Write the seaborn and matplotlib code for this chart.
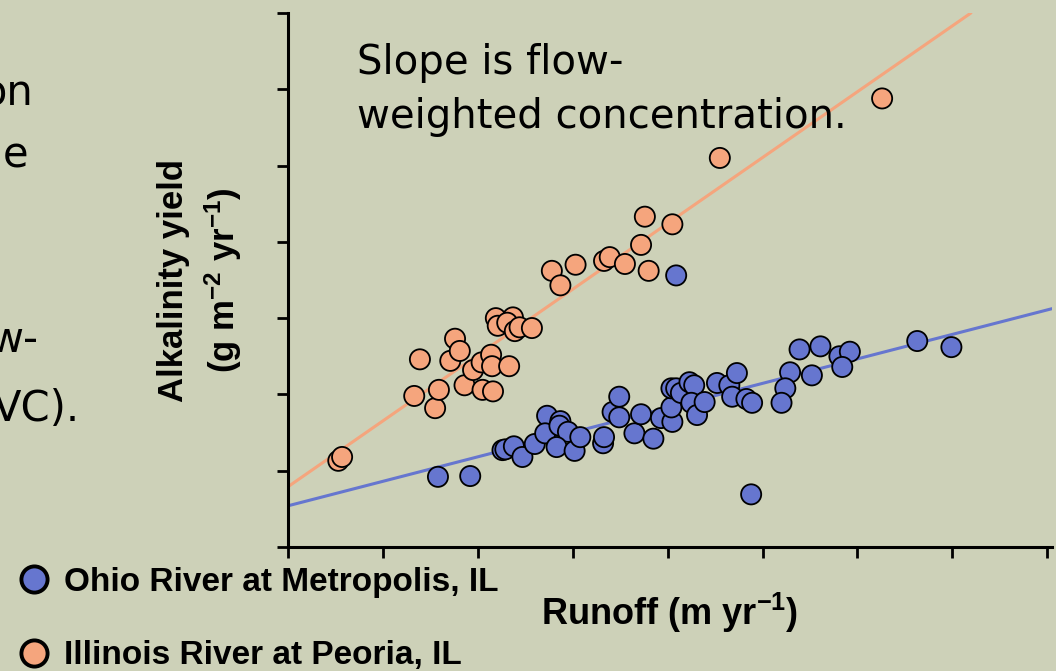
import numpy as np
import pandas as pd
import matplotlib.pyplot as plt
import seaborn as sns

# runoff (m/yr) and alkalinity yield (g m-2 yr-1)
ohio_runoff = [0.158, 0.192, 0.226, 0.229, 0.238, 0.247, 0.260, 0.273, 0.271, 0.287,
               0.286, 0.295, 0.283, 0.302, 0.308, 0.332, 0.333, 0.342, 0.349, 0.349,
               0.365, 0.372, 0.385, 0.393, 0.405, 0.404, 0.404, 0.409, 0.414, 0.423,
               0.428, 0.425, 0.431, 0.439, 0.452, 0.465, 0.473, 0.468, 0.483, 0.489,
               0.488, 0.529, 0.524, 0.520, 0.552, 0.539, 0.561, 0.581, 0.592, 0.584,
               0.663, 0.699, 0.409]
ohio_yield = [9.2, 9.3, 12.7, 12.8, 13.2, 11.8, 13.5, 17.2, 14.9, 16.5,
              15.9, 15.1, 13.1, 12.6, 14.4, 13.6, 14.4, 17.7, 19.7, 17.0,
              14.9, 17.4, 14.2, 16.9, 16.4, 18.3, 20.8, 20.8, 20.2, 21.6,
              21.2, 18.9, 17.3, 19.0, 21.5, 21.2, 22.8, 19.7, 19.4, 18.9,
              6.9, 22.9, 20.8, 18.9, 22.5, 25.9, 26.3, 25.0, 25.6, 23.6,
              27.0, 26.2, 35.6]

illinois_runoff = [0.053, 0.057, 0.139, 0.133, 0.155, 0.159, 0.176, 0.171, 0.181, 0.186,
                   0.195, 0.204, 0.214, 0.215, 0.205, 0.216, 0.233, 0.219, 0.221, 0.237,
                   0.231, 0.239, 0.244, 0.257, 0.278, 0.287, 0.303, 0.333, 0.339, 0.355,
                   0.372, 0.376, 0.405, 0.380, 0.455, 0.626]
illinois_yield = [11.3, 11.8, 24.6, 19.8, 18.2, 20.6, 27.3, 24.4, 25.7, 21.2,
                  23.2, 24.2, 25.2, 23.7, 20.6, 20.4, 23.7, 30.0, 29.0, 30.1,
                  29.4, 28.3, 28.8, 28.7, 36.2, 34.3, 37.0, 37.5, 38.0, 37.1,
                  39.6, 43.3, 42.3, 36.2, 51.0, 58.8]

rivers = ["Ohio River at Metropolis, IL", "Illinois River at Peoria, IL"]
river_colors = ["#6676CF", "#F5A57D"]
# straight-line fits (intercept, slope)
fit_intercept = [5.4, 7.9]
fit_slope = [32.1, 86.3]

df = pd.concat([
    pd.DataFrame({"runoff": ohio_runoff, "alk": ohio_yield, "river": rivers[0]}),
    pd.DataFrame({"runoff": illinois_runoff, "alk": illinois_yield, "river": rivers[1]}),
])

bg = "#CDD1B8"
sns.set_style("ticks", {"axes.facecolor": bg, "figure.facecolor": bg})
plt.rcParams["font.family"] = ["Liberation Sans", "DejaVu Sans"]
plt.rcParams["mathtext.default"] = "regular"
plt.rcParams["text.color"] = "black"
plt.rcParams["axes.labelcolor"] = "black"

W, H = 1056, 671
fig = plt.figure(figsize=(W / 100, H / 100), dpi=100)
ax = fig.add_axes([288 / W, 1 - 547 / H, (1052 - 288) / W, (547 - 13) / H])

# fit lines behind the points
for b, m, c in zip(fit_intercept, fit_slope, river_colors):
    ax.axline((0, b), slope=m, color=c, lw=2.2, zorder=1)

sns.scatterplot(data=df, x="runoff", y="alk", hue="river", hue_order=rivers,
                palette=river_colors, s=210, edgecolor="black", linewidth=1.3,
                alpha=1, ax=ax, zorder=3)

ax.set_xlim(0, 0.805)
ax.set_ylim(0, 70)
ax.set_xticks(np.arange(0, 0.81, 0.1))
ax.set_yticks(np.arange(0, 71, 10))
ax.set_xticklabels([])
ax.set_yticklabels([])
ax.tick_params(direction="out", length=8, width=2, color="black")
sns.despine(ax=ax)
for s in ["left", "bottom"]:
    ax.spines[s].set_linewidth(2.2)
    ax.spines[s].set_color("black")

ax.set_xlabel(r"Runoff (m yr$^{-1}$)", fontsize=26, fontweight="bold", labelpad=20)
ax.set_ylabel("Alkalinity yield\n" + r"(g m$^{-2}$ yr$^{-1}$)", fontsize=25,
              fontweight="bold", labelpad=20, linespacing=1.4)

sns.move_legend(ax, loc="upper left", bbox_to_anchor=(17 / W, 1 - 567 / H),
                bbox_transform=fig.transFigure, title=None, frameon=False,
                fontsize=24, markerscale=1.3, labelspacing=1.27, handlelength=1.0,
                handletextpad=0.4, borderaxespad=0, borderpad=0)
leg = ax.get_legend()
for h in leg.legend_handles:
    h.set_markeredgewidth(2.8)
    h.set_markeredgecolor("black")
for t in leg.get_texts():
    t.set_fontweight("bold")

fig.text(357 / W, 1 - 128 / H, "Slope is flow-\nweighted concentration.",
         fontsize=29, family="DejaVu Sans", ha="left", va="baseline",
         linespacing=1.45)

# slide text cut off at the left edge
for txt, xr, yb in [("on", 33, 105), ("e", 28, 167), ("w-", 38, 352), ("VC).", 80, 421)]:
    fig.text(xr / W, 1 - yb / H, txt, fontsize=30, family="DejaVu Sans",
             ha="right", va="baseline")

fig.savefig("out.png", dpi=100, facecolor=bg)
